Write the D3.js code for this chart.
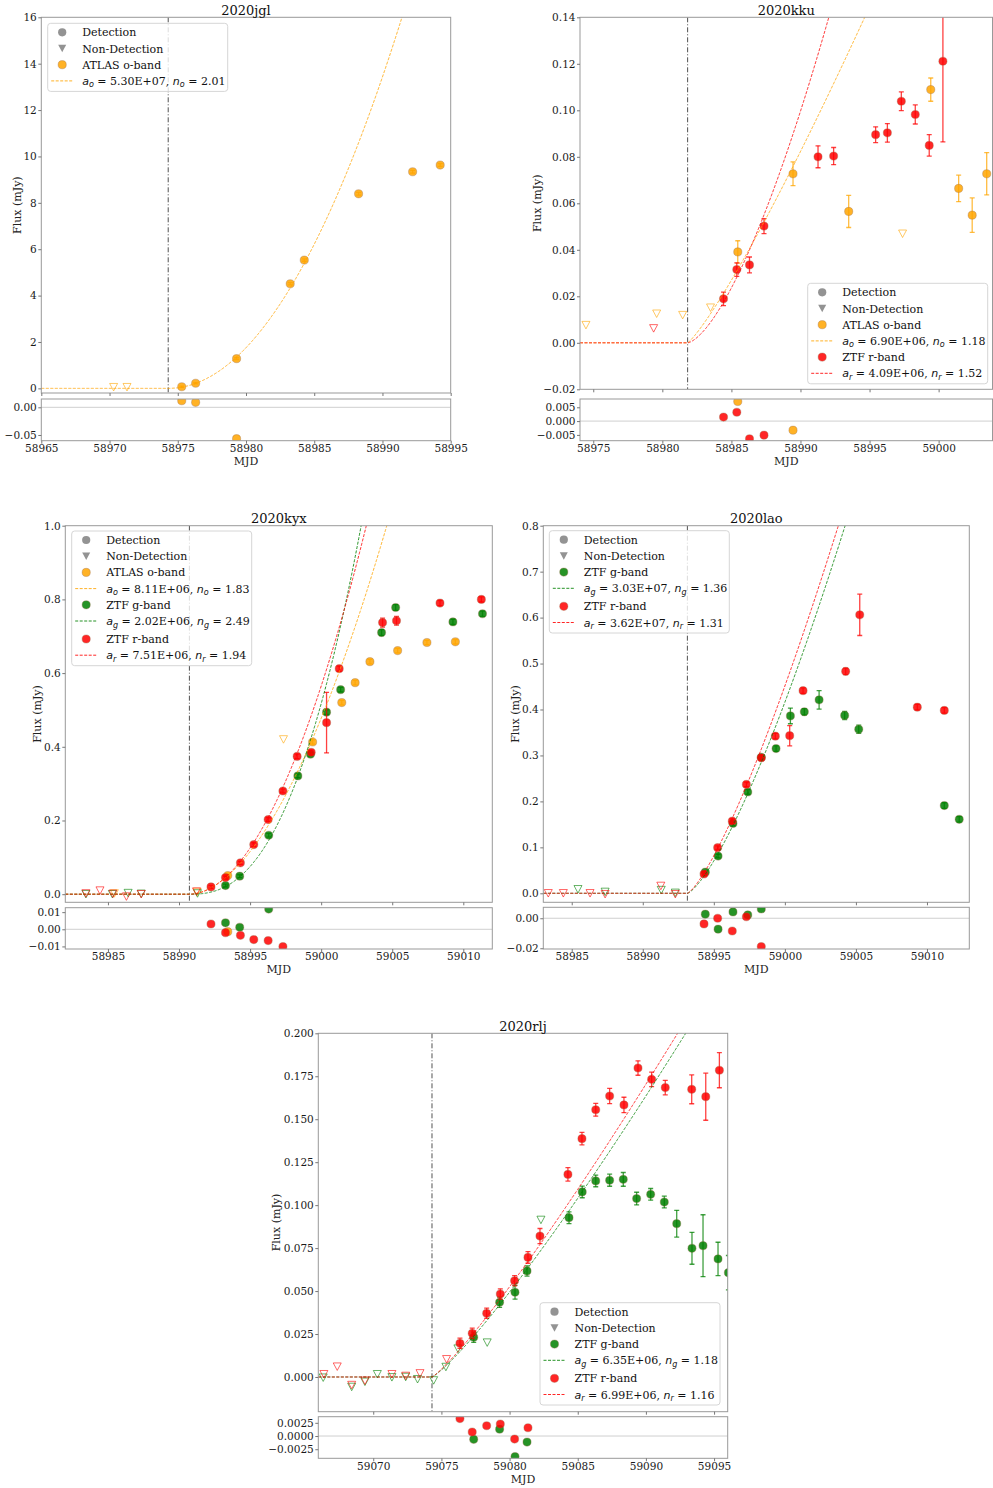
<!DOCTYPE html>
<html>
<head>
<meta charset="utf-8">
<script src="https://cdn.jsdelivr.net/npm/d3@7"></script>
<style>
  body { margin: 0; background: #fff; }
</style>
</head>
<body>
<svg id="fig" width="993" height="1488" font-family="DejaVu Serif"></svg>
<script>
// ---------- light-curve data: [MJD, flux (mJy), error] ----------
// 2020jgl
const jglT0 = 58974.3;
const jglO = [[58975.29,0.07,0.03],[58976.31,0.22,0.03],[58979.31,1.28,0.04],[58983.24,4.51,0.05],[58984.27,5.53,0.05],[58988.25,8.39,0.06],[58992.21,9.34,0.06],[58994.23,9.63,0.06]];
const jglONon = [[58970.30,0.05],[58971.28,0.05]];
const jglORes = [[58975.29,0.0119],[58976.31,0.009],[58979.31,-0.0567]];
const jglFitO = [5.30e7, 2.01];

// 2020kku
const kkuT0 = 58981.83;
const kkuO = [[58985.46,0.0391,0.0048],[58989.46,0.0727,0.0051],[58993.49,0.0565,0.0069],[58999.43,0.1089,0.0050],[59001.45,0.0664,0.0057],[59002.43,0.0549,0.0074],[59003.48,0.0727,0.0091]];
const kkuR = [[58984.43,0.0189,0.0029],[58985.39,0.0315,0.0029],[58986.31,0.0335,0.0034],[58987.36,0.0502,0.0032],[58991.27,0.0800,0.0047],[58992.40,0.0803,0.0037],[58995.44,0.0895,0.0034],[58996.29,0.0903,0.0040],[58997.30,0.1039,0.0040],[58998.31,0.0982,0.0041],[58999.32,0.0849,0.0046],[59000.31,0.1211,0.0347]];
const kkuONon = [[58974.47,0.0076],[58979.59,0.0125],[58981.47,0.0119],[58983.49,0.0151],[58997.39,0.0469]];
const kkuRNon = [[58979.37,0.0062]];
const kkuORes = [[58985.46,0.0071],[58989.46,-0.0033]];
const kkuRRes = [[58984.43,0.00145],[58985.39,0.0032],[58986.31,-0.0064],[58987.36,-0.0051]];
const kkuFitO = [6.90e6, 1.18];
const kkuFitR = [4.09e6, 1.52];

// 2020kyx
const kyxT0 = 58990.73;
const kyxO = [[58993.43,0.0505,0.004],[58999.40,0.413,0.006],[59001.45,0.520,0.006],[59002.39,0.574,0.006],[59003.43,0.631,0.006],[59005.38,0.661,0.006],[59007.44,0.683,0.006],[59009.44,0.685,0.006]];
const kyxG = [[58993.27,0.0235,0.004],[58994.27,0.0488,0.004],[58996.31,0.160,0.005],[58998.36,0.321,0.005],[58999.25,0.380,0.005],[59000.38,0.494,0.006],[59001.37,0.555,0.006],[59004.25,0.710,0.008],[59005.24,0.778,0.008],[59009.27,0.739,0.007],[59011.35,0.761,0.007]];
const kyxR = [[58992.25,0.0198,0.004],[58993.27,0.045,0.004],[58994.32,0.085,0.004],[58995.26,0.1346,0.005],[58996.27,0.2024,0.005],[58997.31,0.280,0.005],[58998.31,0.374,0.006],[58999.30,0.385,0.006],[59000.38,0.4655,0.082],[59001.27,0.612,0.007],[59004.32,0.737,0.012],[59005.30,0.742,0.012],[59008.36,0.790,0.007],[59011.27,0.800,0.007]];
const kyxONon = [[58985.45,0.002],[58991.28,0.006],[58997.35,0.420]];
const kyxGNon = [[58983.45,0.0],[58985.31,0.0],[58986.42,0.003],[58987.34,0.001],[58991.30,0.002]];
const kyxRNon = [[58983.45,0.002],[58984.44,0.0098],[58985.35,0.001],[58986.30,-0.0065],[58987.34,0.0],[58991.23,0.007]];
const kyxORes = [[58993.43,-0.0014]];
const kyxGRes = [[58993.27,0.0038],[58994.27,0.0012],[58996.31,0.0118]];
const kyxRRes = [[58992.25,0.0031],[58993.27,-0.002],[58994.32,-0.0035],[58995.26,-0.006],[58996.27,-0.0066],[58997.31,-0.0101]];
const kyxFitO = [8.11e6, 1.83];
const kyxFitG = [2.02e6, 2.49];
const kyxFitR = [7.51e6, 1.94];

// 2020lao
const laoT0 = 58993.14;
const laoG = [[58994.40,0.046,0.004],[58995.30,0.081,0.004],[58996.35,0.152,0.005],[58997.39,0.2205,0.005],[58998.34,0.296,0.005],[58999.38,0.315,0.006],[59000.39,0.386,0.017],[59001.37,0.395,0.007],[59002.41,0.421,0.020],[59004.21,0.387,0.009],[59005.20,0.357,0.009],[59011.22,0.191,0.006],[59012.27,0.161,0.006]];
const laoR = [[58994.31,0.042,0.004],[58995.27,0.0993,0.004],[58996.30,0.157,0.005],[58997.29,0.237,0.005],[58998.34,0.295,0.006],[58999.33,0.342,0.006],[59000.34,0.343,0.022],[59001.28,0.441,0.006],[59004.28,0.483,0.007],[59005.27,0.606,0.045],[59009.32,0.405,0.006],[59011.22,0.398,0.006]];
const laoGNon = [[58985.44,0.0087],[58987.35,0.003],[58991.30,0.007],[58992.29,0.001]];
const laoRNon = [[58983.35,0.0],[58984.41,0.0],[58986.29,0.0],[58987.35,-0.002],[58991.27,0.016],[58992.29,-0.002]];
const laoGRes = [[58994.40,0.0027],[58995.30,-0.0073],[58996.35,0.0042],[58997.39,0.0022],[58998.34,0.0062]];
const laoRRes = [[58994.31,-0.0038],[58995.27,0.0],[58996.30,-0.0085],[58997.29,0.001],[58998.34,-0.0189]];
const laoFitG = [3.03e7, 1.36];
const laoFitR = [3.62e7, 1.31];

// 2020rlj
const rljT0 = 59074.31;
const rljG = [[59077.37,0.0231,0.003],[59079.27,0.0435,0.003],[59080.40,0.0493,0.004],[59081.28,0.0617,0.003],[59084.36,0.0927,0.0034],[59085.33,0.1077,0.0034],[59086.32,0.1141,0.0034],[59087.34,0.1145,0.0035],[59088.34,0.1150,0.004],[59089.32,0.1038,0.0037],[59090.35,0.1063,0.0034],[59091.35,0.1018,0.0034],[59092.26,0.0892,0.0078],[59093.38,0.0749,0.0093],[59094.19,0.0764,0.018],[59095.29,0.0687,0.0097],[59096.05,0.0607,0.010]];
const rljR = [[59076.36,0.0196,0.003],[59077.26,0.0254,0.003],[59078.32,0.0371,0.003],[59079.32,0.0483,0.003],[59080.37,0.0560,0.003],[59081.35,0.0696,0.0034],[59082.23,0.0820,0.0044],[59084.28,0.1179,0.0039],[59085.31,0.1387,0.0036],[59086.32,0.1555,0.0037],[59087.34,0.1635,0.0044],[59088.39,0.1583,0.0045],[59089.42,0.1798,0.0042],[59090.42,0.1732,0.0042],[59091.42,0.1684,0.0042],[59093.36,0.1674,0.0084],[59094.39,0.1631,0.0137],[59095.39,0.1785,0.0102]];
const rljGNon = [[59066.33,-0.0004],[59068.42,-0.0058],[59069.39,-0.0028],[59070.30,0.0016],[59071.37,-0.0002],[59072.38,0.0],[59073.25,-0.0013],[59074.43,-0.002],[59075.33,0.0058],[59076.21,0.0165],[59078.36,0.020],[59082.30,0.0914]];
const rljRNon = [[59066.38,0.0016],[59067.36,0.006],[59068.42,-0.0047],[59069.39,-0.0022],[59071.37,0.0016],[59072.38,0.0006],[59073.43,0.0021],[59075.38,0.0103]];
const rljGRes = [[59077.37,-0.00063],[59079.27,0.0013],[59080.40,-0.0039],[59081.28,-0.00114]];
const rljRRes = [[59076.36,0.0033],[59077.26,0.00076],[59078.32,0.00195],[59079.32,0.00227],[59080.37,-0.00057],[59081.35,0.00157]];
const rljFitG = [6.35e6, 1.18];
const rljFitR = [6.99e6, 1.16];

// ---------- styling ----------
const COLORS = { o: '#FFA500', g: '#008000', r: '#FF0000' };
const BAND_NAME = { o: 'ATLAS o-band', g: 'ZTF g-band', r: 'ZTF r-band' };
const FIT_UNIT = 1e-9;   // quoted amplitudes a are in units of 1e-9 mJy / day^n
const TICK_FONT = 10.5;

const panels = [
  { title: '2020jgl', left: 41.3, right: 450.7, top: 17.3, mainBottom: 393, resTop: 399, resBottom: 440.7,
    xDom: [58965, 58995], xTicks: d3.range(58965, 58996, 5),
    yDom: [-0.2, 16], yTicks: d3.range(0, 17, 2), yFmt: 'd',
    rDom: [-0.0603, 0.015], rTicks: [-0.05, 0], rFmt: '.2f',
    t0: jglT0,
    bands: [{ band: 'o', det: jglO, non: jglONon, res: jglORes, fit: jglFitO }],
    legend: { x: 47.7, y: 23.3 }, titleY: 15, ylabX: 17, mjdY: 465 },
  { title: '2020kku', left: 580, right: 992.5, top: 17.3, mainBottom: 389.3, resTop: 399, resBottom: 440.7,
    xDom: [58974.04, 59003.9], xTicks: d3.range(58975, 59001, 5),
    yDom: [-0.02, 0.14], yTicks: d3.range(-0.02, 0.141, 0.02), yFmt: '.2f',
    rDom: [-0.0071, 0.0080], rTicks: [-0.005, 0, 0.005], rFmt: '.3f',
    t0: kkuT0,
    bands: [{ band: 'o', det: kkuO, non: kkuONon, res: kkuORes, fit: kkuFitO },
            { band: 'r', det: kkuR, non: kkuRNon, res: kkuRRes, fit: kkuFitR }],
    legend: { x: 807.7, y: 283.3 }, titleY: 15, ylabX: 537, mjdY: 465 },
  { title: '2020kyx', left: 65.3, right: 492.3, top: 525.7, mainBottom: 902.3, resTop: 907.7, resBottom: 949,
    xDom: [58982, 59012.04], xTicks: d3.range(58985, 59011, 5),
    yDom: [-0.022, 1.0], yTicks: d3.range(0, 1.01, 0.2), yFmt: '.1f',
    rDom: [-0.0115, 0.0126], rTicks: [-0.01, 0, 0.01], rFmt: '.2f',
    t0: kyxT0,
    bands: [{ band: 'o', det: kyxO, non: kyxONon, res: kyxORes, fit: kyxFitO },
            { band: 'g', det: kyxG, non: kyxGNon, res: kyxGRes, fit: kyxFitG },
            { band: 'r', det: kyxR, non: kyxRNon, res: kyxRRes, fit: kyxFitR }],
    legend: { x: 71.7, y: 531 }, titleY: 523, ylabX: 37.3, mjdY: 972.5 },
  { title: '2020lao', left: 543.3, right: 969.3, top: 525.7, mainBottom: 902.3, resTop: 907.3, resBottom: 949,
    xDom: [58983, 59012.98], xTicks: d3.range(58985, 59011, 5),
    yDom: [-0.0196, 0.8], yTicks: d3.range(0, 0.81, 0.1), yFmt: '.1f',
    rDom: [-0.0205, 0.0073], rTicks: [-0.02, 0], rFmt: '.2f',
    t0: laoT0,
    bands: [{ band: 'g', det: laoG, non: laoGNon, res: laoGRes, fit: laoFitG },
            { band: 'r', det: laoR, non: laoRNon, res: laoRRes, fit: laoFitR }],
    legend: { x: 549.3, y: 530.7 }, titleY: 523, ylabX: 515.7, mjdY: 972.5 },
  { title: '2020rlj', left: 318.3, right: 727.7, top: 1033.3, mainBottom: 1411.7, resTop: 1416.7, resBottom: 1458.3,
    xDom: [59065.97, 59096.0], xTicks: d3.range(59070, 59096, 5),
    yDom: [-0.0202, 0.2], yTicks: d3.range(0, 0.201, 0.025), yFmt: '.3f',
    rDom: [-0.00422, 0.00366], rTicks: [-0.0025, 0, 0.0025], rFmt: '.4f',
    t0: rljT0,
    bands: [{ band: 'g', det: rljG, non: rljGNon, res: rljGRes, fit: rljFitG },
            { band: 'r', det: rljR, non: rljRNon, res: rljRRes, fit: rljFitR }],
    legend: { x: 540, y: 1302.7 }, titleY: 1031, ylabX: 276.5, mjdY: 1483 }
];

const svg = d3.select('#fig');
const defs = svg.append('defs');

const CIRCLE_R = 4.1;
const TRI_W = 8, TRI_H = 7.5;
const triPath = `M${-TRI_W/2},${-TRI_H/2}L${TRI_W/2},${-TRI_H/2}L0,${TRI_H/2}Z`;

function fmtE(v) {
  const [m, e] = v.toExponential(2).split('e');
  const ei = +e;
  return m + 'E' + (ei < 0 ? '-' : '+') + String(Math.abs(ei)).padStart(2, '0');
}

function powerLaw(fit, t0) {
  const [a, n] = fit;
  return t => (t <= t0 ? 0 : a * FIT_UNIT * Math.pow(t - t0, n));
}

function styleAxis(g) {
  g.attr('font-family', 'DejaVu Serif').attr('font-size', TICK_FONT);
  g.select('.domain').remove();
  g.selectAll('.tick line').attr('stroke', '#777');
  g.selectAll('.tick text').attr('fill', '#1a1a1a');
}

function drawDetections(layer, data, xs, ys, color, withErr) {
  if (withErr) {
    const eb = layer.append('g').attr('stroke', color).attr('stroke-opacity', 0.75).attr('stroke-width', 1.3);
    data.forEach(d => {
      if (d.length < 3) return;
      const x = xs(d[0]), y1 = ys(d[1] - d[2]), y2 = ys(d[1] + d[2]);
      eb.append('line').attr('x1', x).attr('x2', x).attr('y1', y1).attr('y2', y2);
      eb.append('line').attr('x1', x - 2.5).attr('x2', x + 2.5).attr('y1', y1).attr('y2', y1);
      eb.append('line').attr('x1', x - 2.5).attr('x2', x + 2.5).attr('y1', y2).attr('y2', y2);
    });
  }
  layer.append('g').selectAll('circle').data(data).join('circle')
    .attr('cx', d => xs(d[0])).attr('cy', d => ys(d[1])).attr('r', CIRCLE_R)
    .attr('fill', color).attr('fill-opacity', 0.85)
    .attr('stroke', '#9a6a48').attr('stroke-opacity', 0.45).attr('stroke-width', 0.8);
}

function drawPanel(p, idx) {
  const x = d3.scaleLinear().domain(p.xDom).range([p.left, p.right]);
  const y = d3.scaleLinear().domain(p.yDom).range([p.mainBottom, p.top]);
  const yr = d3.scaleLinear().domain(p.rDom).range([p.resBottom, p.resTop]);
  const root = svg.append('g').attr('class', 'panel');

  defs.append('clipPath').attr('id', 'clipMain' + idx).append('rect')
    .attr('x', p.left).attr('y', p.top).attr('width', p.right - p.left).attr('height', p.mainBottom - p.top);
  defs.append('clipPath').attr('id', 'clipRes' + idx).append('rect')
    .attr('x', p.left).attr('y', p.resTop).attr('width', p.right - p.left).attr('height', p.resBottom - p.resTop);

  // ---- main light-curve axes ----
  const main = root.append('g').attr('clip-path', `url(#clipMain${idx})`);

  // explosion epoch
  main.append('line').attr('x1', x(p.t0)).attr('x2', x(p.t0)).attr('y1', p.top).attr('y2', p.mainBottom)
    .attr('stroke', '#333').attr('stroke-width', 1).attr('stroke-dasharray', '5,2,1,2').attr('stroke-opacity', 0.85);

  p.bands.forEach(b => {
    const c = COLORS[b.band];
    main.append('g').selectAll('path').data(b.non).join('path')
      .attr('d', triPath).attr('transform', d => `translate(${x(d[0])},${y(d[1])})`)
      .attr('fill', 'none').attr('stroke', c).attr('stroke-opacity', 0.6).attr('stroke-width', 1);
    drawDetections(main, b.det, x, y, c, true);
  });
  p.bands.forEach(b => {
    const f = powerLaw(b.fit, p.t0);
    const ts = d3.range(p.xDom[0], p.xDom[1], 0.02).concat([p.xDom[1]]);
    main.append('path').datum(ts)
      .attr('d', d3.line().x(t => x(t)).y(t => y(f(t))))
      .attr('fill', 'none').attr('stroke', COLORS[b.band]).attr('stroke-width', 1)
      .attr('stroke-dasharray', '3,1.5').attr('stroke-opacity', 0.85);
  });

  // ---- residual axes ----
  const res = root.append('g').attr('clip-path', `url(#clipRes${idx})`);
  res.append('line').attr('x1', p.left).attr('x2', p.right).attr('y1', yr(0)).attr('y2', yr(0))
    .attr('stroke', '#cfcfcf').attr('stroke-width', 1);
  p.bands.forEach(b => drawDetections(res, b.res, x, yr, COLORS[b.band], false));

  // frames
  [[p.top, p.mainBottom], [p.resTop, p.resBottom]].forEach(([t, bt]) => {
    root.append('rect').attr('x', p.left).attr('y', t).attr('width', p.right - p.left).attr('height', bt - t)
      .attr('fill', 'none').attr('stroke', '#999').attr('stroke-width', 1);
  });

  // axes
  root.append('g').attr('transform', `translate(${p.left},0)`)
    .call(d3.axisLeft(y).tickValues(p.yTicks).tickFormat(d3.format(p.yFmt)).tickSize(3).tickPadding(1.5))
    .call(styleAxis);
  root.append('g').attr('transform', `translate(0,${p.mainBottom})`)
    .call(d3.axisBottom(x).tickValues(p.xTicks).tickFormat('').tickSize(3))
    .call(styleAxis);
  root.append('g').attr('transform', `translate(${p.left},0)`)
    .call(d3.axisLeft(yr).tickValues(p.rTicks).tickFormat(d3.format(p.rFmt)).tickSize(3).tickPadding(1.5))
    .call(styleAxis);
  root.append('g').attr('transform', `translate(0,${p.resBottom})`)
    .call(d3.axisBottom(x).tickValues(p.xTicks).tickFormat(d3.format('d')).tickSize(3).tickPadding(1))
    .call(styleAxis);

  // labels
  const cx = (p.left + p.right) / 2;
  root.append('text').attr('x', cx).attr('y', p.titleY).attr('text-anchor', 'middle')
    .attr('font-size', 13).attr('fill', '#111').text(p.title);
  root.append('text').attr('x', cx).attr('y', p.mjdY).attr('text-anchor', 'middle')
    .attr('font-size', 11).attr('fill', '#222').text('MJD');
  const cy = (p.top + p.mainBottom) / 2;
  root.append('text').attr('transform', `translate(${p.ylabX},${cy}) rotate(-90)`)
    .attr('text-anchor', 'middle').attr('dominant-baseline', 'central')
    .attr('font-size', 11).attr('fill', '#222').text('Flux (mJy)');

  drawLegend(root, p);
}

function drawLegend(root, p) {
  const entries = [{ kind: 'circle', color: '#808080', text: 'Detection' },
                   { kind: 'tri', color: '#808080', text: 'Non-Detection' }];
  p.bands.forEach(b => {
    entries.push({ kind: 'circle', color: COLORS[b.band], text: BAND_NAME[b.band] });
    entries.push({ kind: 'fit', color: COLORS[b.band], band: b.band, fit: b.fit });
  });
  let yy = p.legend.y + 9;
  const rows = entries.map(e => {
    const r = yy;
    yy += 16.2 + (e.kind === 'fit' && e.band === 'g' ? 1.8 : 0);
    return r;
  });
  const bx = p.legend.x, by = p.legend.y, bw = 180;
  const bh = rows[rows.length - 1] - by + 10.5;
  const lg = root.append('g');
  lg.append('rect').attr('x', bx).attr('y', by).attr('width', bw).attr('height', bh).attr('rx', 3)
    .attr('fill', '#fff').attr('fill-opacity', 0.8).attr('stroke', '#d6d6d6').attr('stroke-width', 1);
  const mx = bx + 14.5, tx = bx + 34.5;
  entries.forEach((e, i) => {
    const ry = rows[i];
    if (e.kind === 'circle') {
      lg.append('circle').attr('cx', mx).attr('cy', ry).attr('r', CIRCLE_R)
        .attr('fill', e.color).attr('fill-opacity', 0.85)
        .attr('stroke', '#9a6a48').attr('stroke-opacity', e.color === '#808080' ? 0 : 0.45).attr('stroke-width', 0.8);
    } else if (e.kind === 'tri') {
      lg.append('path').attr('d', triPath).attr('transform', `translate(${mx},${ry})`)
        .attr('fill', e.color).attr('fill-opacity', 0.85);
    } else {
      lg.append('line').attr('x1', bx + 3.5).attr('x2', bx + 25.5).attr('y1', ry).attr('y2', ry)
        .attr('stroke', e.color).attr('stroke-width', 1).attr('stroke-dasharray', '3,1.5').attr('stroke-opacity', 0.85);
    }
    if (e.kind === 'fit') {
      // math symbols in sans italic, the rest in the figure's serif face
      const t = lg.append('text').attr('x', tx).attr('y', ry + 4).attr('font-size', 11).attr('fill', '#111');
      t.append('tspan').attr('font-family', 'DejaVu Sans').attr('font-style', 'italic').text('a');
      t.append('tspan').attr('font-family', 'DejaVu Sans').attr('font-style', 'italic')
        .attr('font-size', 8).attr('dy', 2.5).text(e.band);
      t.append('tspan').attr('dy', -2.5).text(` = ${fmtE(e.fit[0])}, `);
      t.append('tspan').attr('font-family', 'DejaVu Sans').attr('font-style', 'italic').text('n');
      t.append('tspan').attr('font-family', 'DejaVu Sans').attr('font-style', 'italic')
        .attr('font-size', 8).attr('dy', 2.5).text(e.band);
      t.append('tspan').attr('dy', -2.5).text(` = ${e.fit[1].toFixed(2)}`);
    } else {
      lg.append('text').attr('x', tx).attr('y', ry + 4).attr('font-size', 11).attr('fill', '#111').text(e.text);
    }
  });
}

panels.forEach(drawPanel);
</script>
</body>
</html>
